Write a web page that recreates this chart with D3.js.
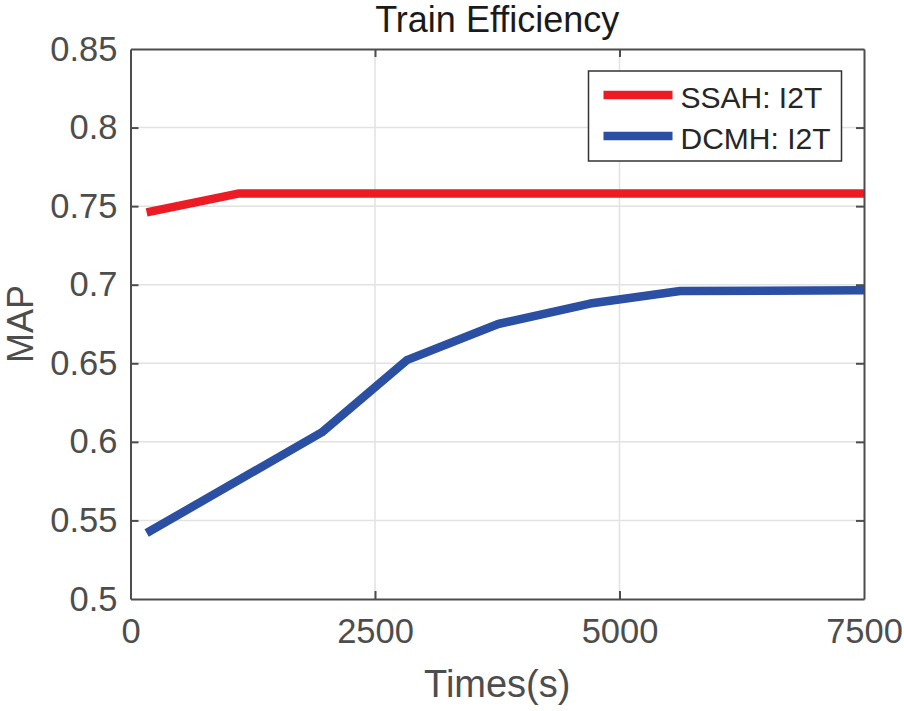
<!DOCTYPE html>
<html>
<head>
<meta charset="utf-8">
<script src="https://d3js.org/d3.v7.min.js"></script>
<style>
  body { margin: 0; background: #fff; }
  svg { display: block; font-family: "Liberation Sans", Arial, sans-serif; }
</style>
</head>
<body>
<svg id="chart" width="904" height="711"></svg>
<script>
// data
var seriesNames = ['SSAH: I2T', 'DCMH: I2T']
var seriesColors = ['#ed1c24', '#2b4fa2']
var ssahTimes = [165, 1100, 7500]
var ssahMap = [0.746, 0.758, 0.758]
var dcmhTimes = [165, 1955, 2825, 3760, 4700, 5620, 7500]
var dcmhMap = [0.542, 0.606, 0.652, 0.675, 0.688, 0.696, 0.6965]
var xTicks = [0, 2500, 5000, 7500]
var yTicks = [0.5, 0.55, 0.6, 0.65, 0.7, 0.75, 0.8, 0.85]

var svg = d3.select('#chart')
var margin = { left: 130.5, right: 40, top: 49, bottom: 112 }
var width = 904 - margin.left - margin.right
var height = 711 - margin.top - margin.bottom

var x = d3.scaleLinear().domain([0, 7500]).range([0, width])
var y = d3.scaleLinear().domain([0.5, 0.85]).range([height, 0])

var g = svg.append('g')
           .attr('transform', 'translate(' + margin.left + ',' + margin.top + ')')

// grid
g.append('g').selectAll('line.gx')
 .data(xTicks.slice(1, -1))
 .join('line')
 .attr('x1', x).attr('x2', x)
 .attr('y1', 0).attr('y2', height)
 .attr('stroke', '#e2e2e2').attr('stroke-width', 1.5)

g.append('g').selectAll('line.gy')
 .data(yTicks.slice(1, -1))
 .join('line')
 .attr('y1', y).attr('y2', y)
 .attr('x1', 0).attr('x2', width)
 .attr('stroke', '#e2e2e2').attr('stroke-width', 1.5)

// lines
var line = d3.line()
             .x(function (d) { return x(d[0]) })
             .y(function (d) { return y(d[1]) })

var series = [d3.zip(ssahTimes, ssahMap), d3.zip(dcmhTimes, dcmhMap)]

g.selectAll('path.series')
 .data(series)
 .join('path')
 .attr('class', 'series')
 .attr('d', line)
 .attr('fill', 'none')
 .attr('stroke', function (d, i) { return seriesColors[i] })
 .attr('stroke-width', 8.5)
 .attr('stroke-linejoin', 'round')

// axes, inward ticks on all four sides
var tickFmt = function (d) { return d3.format('~g')(d) }

var axisColor = '#4d4d4d'
function styleAxis(sel) {
  sel.select('.domain').attr('stroke', axisColor).attr('stroke-width', 2)
  sel.selectAll('.tick line').attr('stroke', axisColor).attr('stroke-width', 2)
  sel.selectAll('text').attr('fill', axisColor)
     .style('font-size', '34.5px')
     .style('font-family', '"Liberation Sans", Arial, sans-serif')
}

g.append('g')
 .attr('transform', 'translate(0,' + height + ')')
 .call(d3.axisBottom(x).tickValues(xTicks).tickSizeInner(-8).tickSizeOuter(0)
       .tickPadding(20).tickFormat(tickFmt))
 .call(styleAxis)

g.append('g')
 .call(d3.axisTop(x).tickValues(xTicks).tickSizeInner(-8).tickSizeOuter(0).tickFormat(''))
 .call(styleAxis)

g.append('g')
 .call(d3.axisLeft(y).tickValues(yTicks).tickSizeInner(-8).tickSizeOuter(0)
       .tickPadding(13).tickFormat(tickFmt))
 .call(styleAxis)

g.append('g')
 .attr('transform', 'translate(' + width + ',0)')
 .call(d3.axisRight(y).tickValues(yTicks).tickSizeInner(-8).tickSizeOuter(0).tickFormat(''))
 .call(styleAxis)

// remove end ticks that sit on the frame corners
g.selectAll('.tick line').filter(function (d) {
  return d === 0 || d === 7500 || d === 0.5 || d === 0.85
}).remove()

// titles
svg.append('text')
   .attr('x', margin.left + width / 2)
   .attr('y', 32)
   .attr('text-anchor', 'middle')
   .attr('fill', '#1a1a1a')
   .style('font-size', '36px')
   .text('Train Efficiency')

svg.append('text')
   .attr('x', margin.left + width / 2)
   .attr('y', 697)
   .attr('text-anchor', 'middle')
   .attr('fill', axisColor)
   .style('font-size', '38px')
   .text('Times(s)')

svg.append('text')
   .attr('transform', 'translate(33,' + (margin.top + height / 2) + ') rotate(-90)')
   .attr('text-anchor', 'middle')
   .attr('fill', axisColor)
   .style('font-size', '36px')
   .text('MAP')

// legend
var legend = svg.append('g').attr('transform', 'translate(588.5,71)')

legend.append('rect')
      .attr('width', 253).attr('height', 90)
      .attr('fill', '#fff')
      .attr('stroke', '#333').attr('stroke-width', 1.5)

var item = legend.selectAll('g.item')
                 .data(seriesNames)
                 .join('g')
                 .attr('transform', function (d, i) { return 'translate(0,' + (24 + i * 41) + ')' })

item.append('line')
    .attr('x1', 15).attr('x2', 84)
    .attr('stroke', function (d, i) { return seriesColors[i] })
    .attr('stroke-width', 8.5)

item.append('text')
    .attr('x', 92).attr('y', 13)
    .attr('fill', '#262626')
    .style('font-size', '30px')
    .text(function (d) { return d })
</script>
</body>
</html>
